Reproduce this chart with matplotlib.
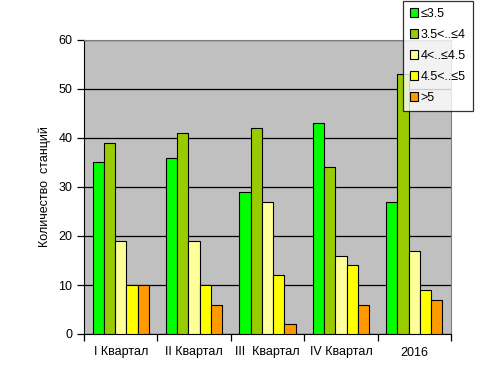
import numpy as np
import matplotlib
matplotlib.use("Agg")
import matplotlib.pyplot as plt
from matplotlib.patches import Patch

plt.rcParams["font.family"] = ["Liberation Sans", "DejaVu Sans"]

categories = ["I Квартал", "II Квартал", "III  Квартал", "IV Квартал", "2016"]
series_names = ["≤3.5", "3.5<..≤4", "4<..≤4.5", "4.5<..≤5", ">5"]
le_35 = [35, 36, 29, 43, 27]
r35_4 = [39, 41, 42, 34, 53]
r4_45 = [19, 19, 27, 16, 17]
r45_5 = [10, 10, 12, 14, 9]
gt_5 = [10, 6, 2, 6, 7]
colors = ["#00FF00", "#99CC00", "#FFFF99", "#FFFF00", "#FF9900"]

series = [le_35, r35_4, r4_45, r45_5, gt_5]

fig = plt.figure(figsize=(4.97, 3.89), dpi=100)
ax = fig.add_axes([84 / 497, 55 / 389, 367 / 497, 294 / 389])
ax.set_facecolor("#C0C0C0")

x = np.arange(len(categories))
w = 0.153
for i, (vals, c) in enumerate(zip(series, colors)):
    ax.bar(x + (i - 2) * w, vals, w, color=c, edgecolor="black", linewidth=0.8, zorder=3)

ax.set_xlim(-0.5, len(categories) - 0.5)
ax.set_ylim(0, 60)
ax.set_yticks(range(0, 61, 10))
ax.yaxis.grid(True, color="black", linewidth=0.9, zorder=1)
ax.set_xticks(x)
ax.set_xticklabels(categories, fontsize=9)
ax.set_xticks(np.arange(-0.5, len(categories)), minor=True)
ax.tick_params(axis="x", which="major", length=0, pad=9)
ax.tick_params(axis="x", which="minor", length=5, direction="out", width=0.9)
ax.tick_params(axis="y", length=5, direction="out", labelsize=9, width=0.9)
ax.set_ylabel("Количество  станций", fontsize=9, labelpad=5)

for s in ["top", "right"]:
    ax.spines[s].set_color("#808080")
ax.spines["left"].set_color("black")
ax.spines["bottom"].set_color("black")

handles = [Patch(facecolor=c, edgecolor="black", linewidth=0.8) for c in colors]
leg = fig.legend(handles, series_names, loc="upper left",
                 bbox_to_anchor=(403 / 497, 388 / 389), borderaxespad=0, fontsize=9,
                 frameon=True, fancybox=False, handlelength=0.65, handleheight=0.65,
                 handletextpad=0.2, labelspacing=0.72, borderpad=0.55)
leg.get_frame().set_edgecolor("black")
leg.get_frame().set_linewidth(0.9)

fig.savefig("out.png", dpi=100)
